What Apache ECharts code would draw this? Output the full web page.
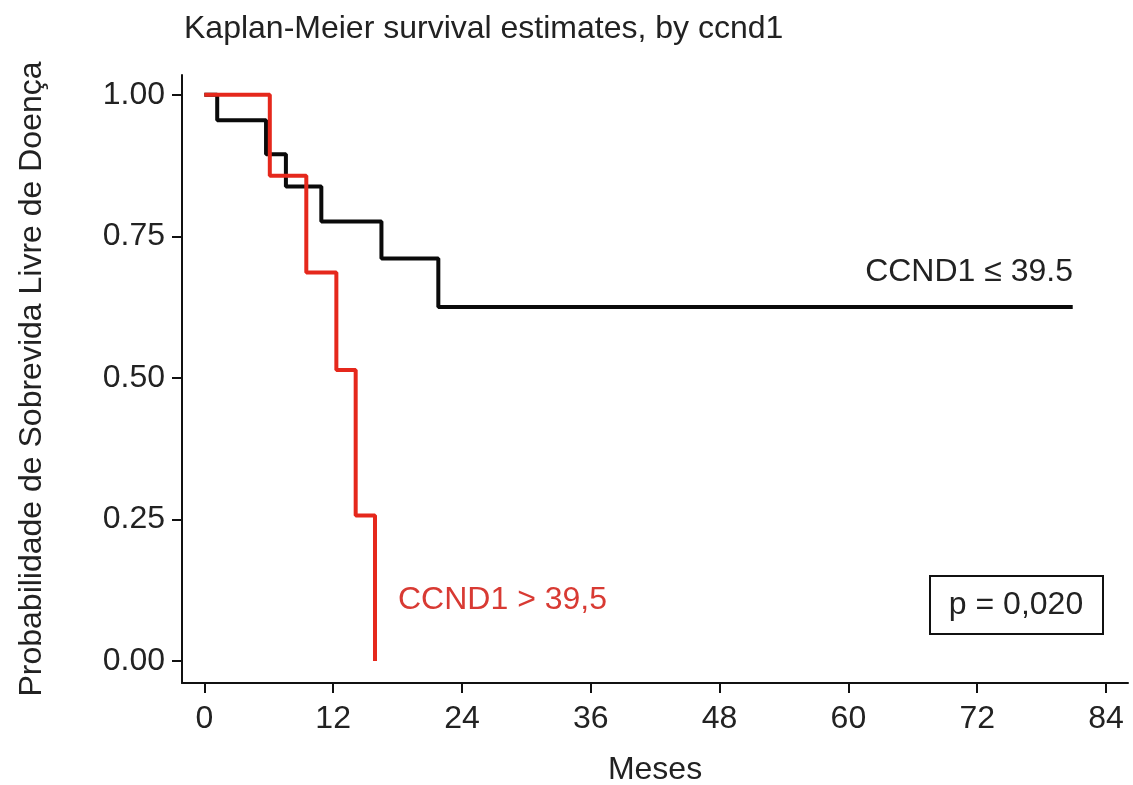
<!DOCTYPE html>
<html>
<head>
<meta charset="utf-8">
<script src="https://cdn.jsdelivr.net/npm/echarts@6/dist/echarts.min.js"></script>
<style>
html,body{margin:0;padding:0;background:#fff;}
#main{width:1133px;height:785px;}
</style>
</head>
<body>
<div id="main"></div>
<script>
// curvas de sobrevida (meses, probabilidade)
var blackTimes = [0, 1.2, 5.75, 7.6, 10.9, 16.5, 21.8, 80.9];
var blackSurv  = [1, 0.955, 0.895, 0.838, 0.776, 0.711, 0.625, 0.625];
var redTimes   = [0, 6.1, 9.5, 12.3, 14.1, 15.9];
var redSurv    = [1, 0.857, 0.686, 0.514, 0.257, 0];
var xTicks = [0, 12, 24, 36, 48, 60, 72, 84];
var yTicks = [0, 0.25, 0.5, 0.75, 1];

function pairs(t, s){
    var out = [];
    for (var i = 0; i < t.length; i++) out.push([t[i], s[i]]);
    return out;
}

var txt = '#222';
var font = 'Liberation Sans, Arial, sans-serif';
var fs = 32;

var myChart = echarts.init(document.getElementById('main'));
var option = {
    animation: false,
    backgroundColor: '#fff',
    textStyle: { fontFamily: font },
    title: {
        text: 'Kaplan-Meier survival estimates, by ccnd1',
        left: 179,
        top: 8,
        textStyle: { fontFamily: font, fontWeight: 'normal', fontSize: fs, color: txt }
    },
    grid: { left: 182, right: 5, top: 75, bottom: 102, containLabel: false, outerBoundsMode: 'none' },
    xAxis: {
        type: 'value',
        min: -2.08,
        max: 86.05,
        name: 'Meses',
        nameLocation: 'middle',
        nameGap: 71,
        nameTextStyle: { fontSize: fs, color: txt, fontFamily: font },
        splitLine: { show: false },
        axisLine: { onZero: false, lineStyle: { color: '#111', width: 2 } },
        axisTick: { customValues: xTicks, length: 10, lineStyle: { color: '#111', width: 2 } },
        axisLabel: { customValues: xTicks, fontSize: fs, color: txt, margin: 20, fontFamily: font }
    },
    yAxis: {
        type: 'value',
        min: -0.039,
        max: 1.035,
        name: 'Probabilidade de Sobrevida Livre de Doença',
        nameLocation: 'middle',
        nameGap: 134,
        nameTextStyle: { fontSize: fs, color: txt, fontFamily: font },
        splitLine: { show: false },
        axisLine: { show: true, onZero: false, lineStyle: { color: '#111', width: 2 } },
        axisTick: { show: true, customValues: yTicks, length: 10, lineStyle: { color: '#111', width: 2 } },
        axisLabel: {
            customValues: yTicks, fontSize: fs, color: txt, margin: 17, fontFamily: font,
            formatter: function (v) { return v.toFixed(2); }
        }
    },
    series: [
        {
            name: 'CCND1 ≤ 39.5',
            type: 'line',
            step: 'end',
            symbol: 'none',
            lineStyle: { color: '#0a0a0a', width: 4 },
            data: pairs(blackTimes, blackSurv)
        },
        {
            name: 'CCND1 > 39,5',
            type: 'line',
            step: 'end',
            symbol: 'none',
            lineStyle: { color: '#e5281c', width: 4 },
            data: pairs(redTimes, redSurv)
        }
    ],
    graphic: [
        { type: 'text', right: 1133 - 1073, top: 256,
          style: { text: 'CCND1 ≤ 39.5', fontSize: fs, fill: txt, fontFamily: font } },
        { type: 'text', left: 398, top: 584,
          style: { text: 'CCND1 > 39,5', fontSize: fs, fill: '#d83a33', fontFamily: font } },
        { type: 'rect', shape: { x: 930, y: 576, width: 173, height: 58 },
          style: { fill: '#fff', stroke: '#111', lineWidth: 2 } },
        { type: 'text', x: 1016, y: 605,
          style: { text: 'p = 0,020', fontSize: fs, fill: txt, fontFamily: font, align: 'center', verticalAlign: 'middle' } }
    ]
};
myChart.setOption(option);
</script>
</body>
</html>
